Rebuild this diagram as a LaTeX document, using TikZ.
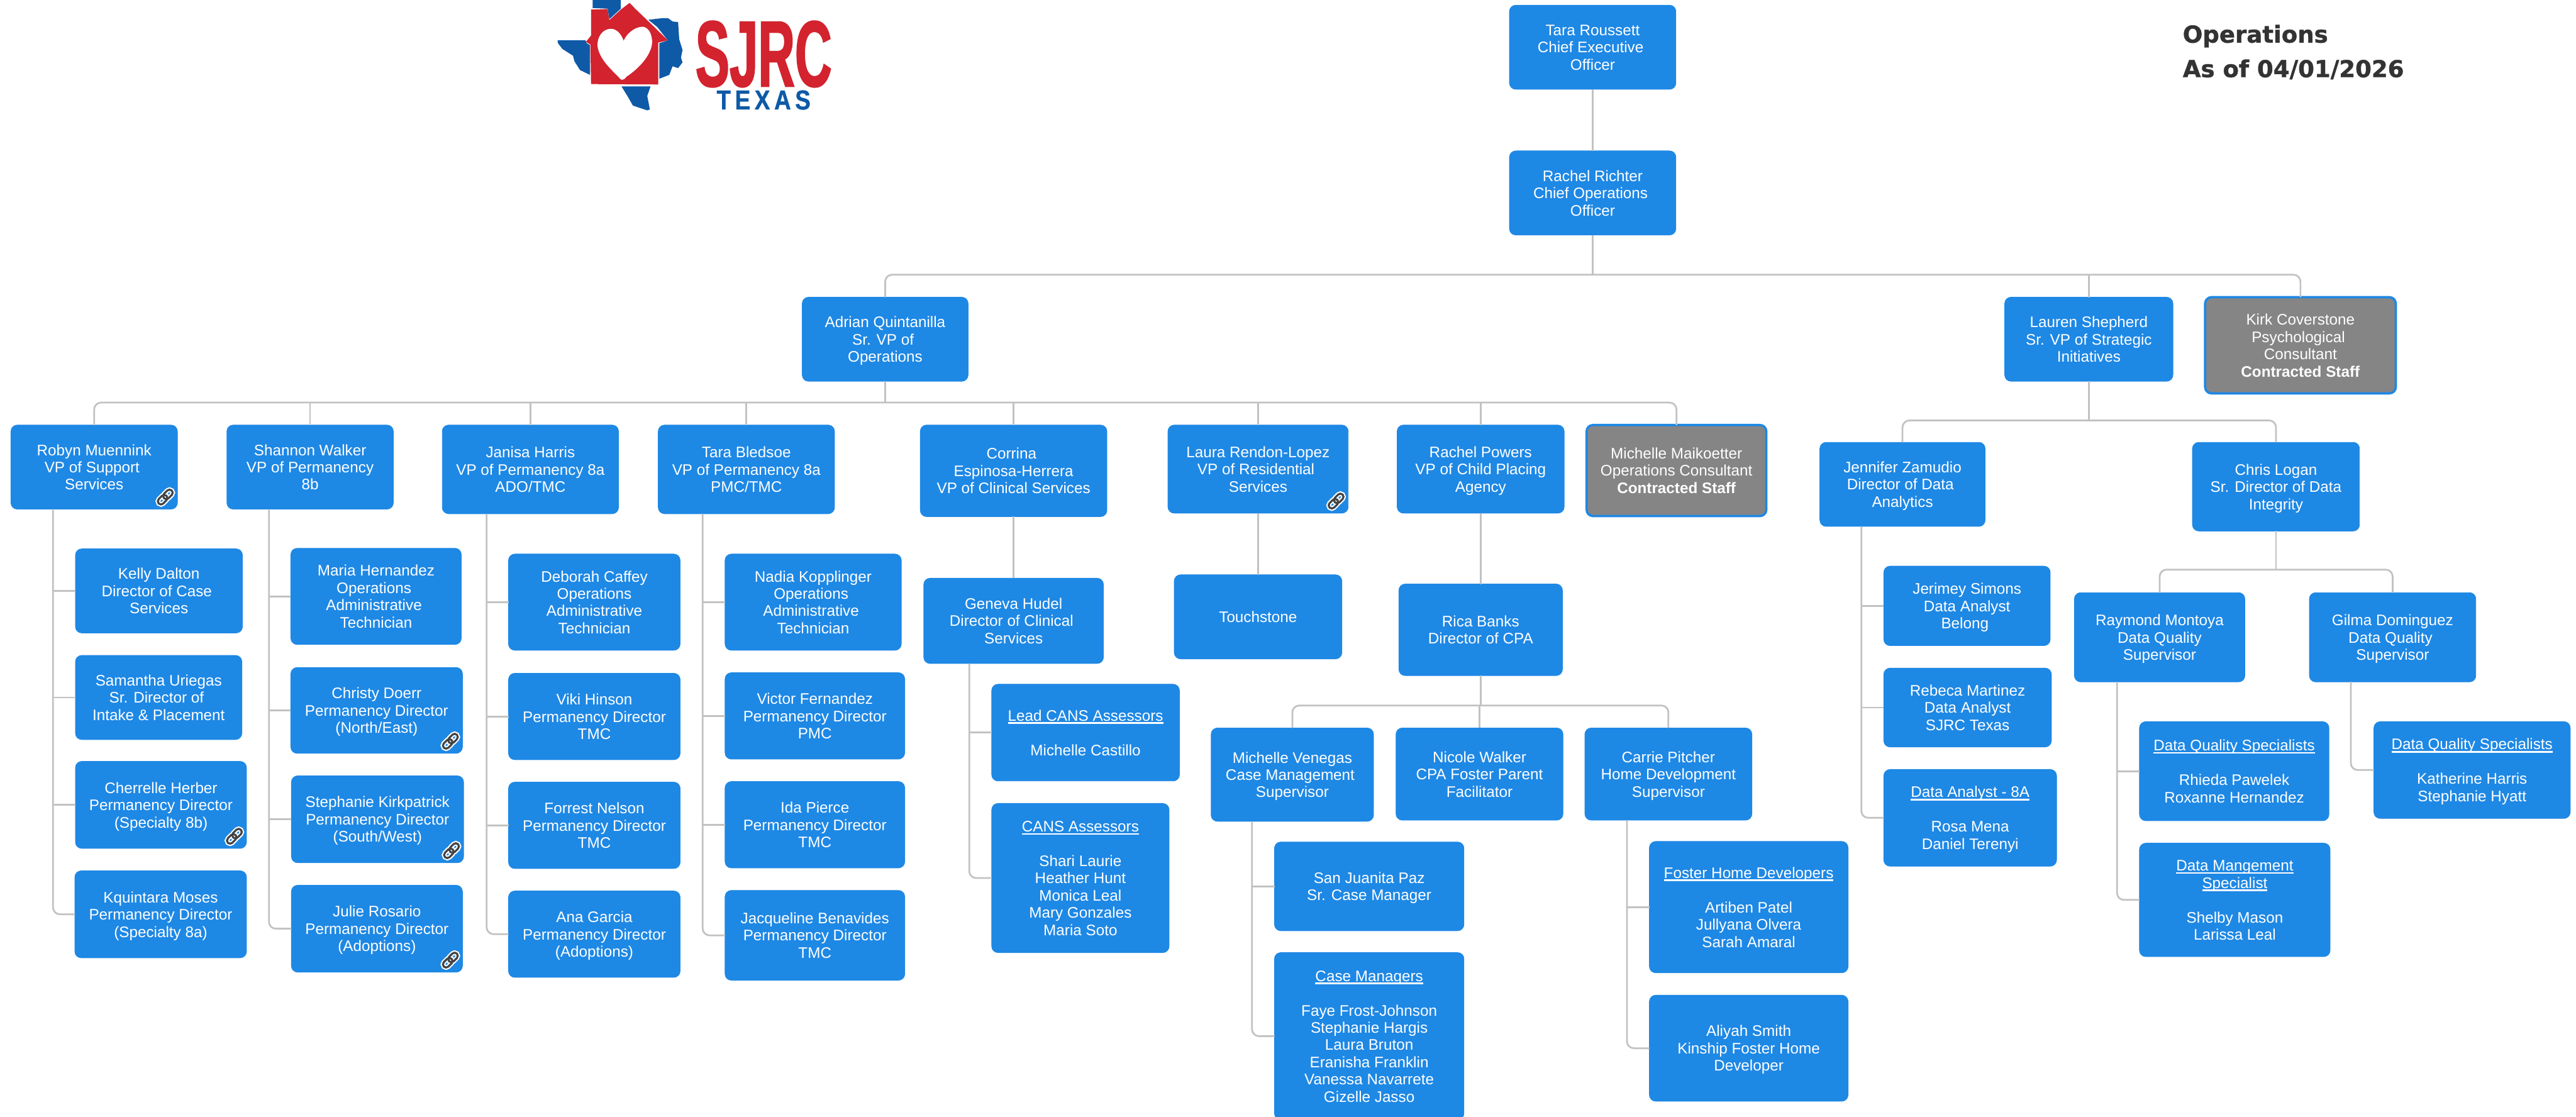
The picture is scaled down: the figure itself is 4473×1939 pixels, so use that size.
\documentclass[tikz,border=0pt]{standalone}
\usepackage{fontspec}
\setmainfont{Liberation Sans}
\newfontfamily\titlefont[FakeBold=1]{DejaVu Sans}
\newfontfamily\logofont[FakeStretch=0.545,FakeBold=1.2]{Liberation Sans}
\newfontfamily\logotwo[FakeStretch=0.85,LetterSpace=15,FakeBold=0.8]{Liberation Sans}
\definecolor{boxblue}{HTML}{1E88E5}
\definecolor{boxgray}{HTML}{858585}
\definecolor{linegray}{HTML}{C2C2C2}
\definecolor{logored}{HTML}{D2232F}
\definecolor{logoblue}{HTML}{0E5AA7}
\definecolor{titlegray}{HTML}{333333}
\definecolor{linkdark}{HTML}{444444}
\tikzset{
  orgbox/.style={rounded corners=11pt,fill=boxblue,draw=boxblue,line width=1pt,inner sep=0pt,outer sep=0pt,
    text=white,align=center,font=\fontsize{26.5}{30}\selectfont},
  grayorg/.style={orgbox,fill=boxgray,line width=4pt},
  conn/.style={draw=linegray,line width=3pt},
  busline/.style={conn,rounded corners=12pt}
}
\newcommand\topstrut{\vrule height 25pt depth 0pt width 0pt\relax}
\newcommand\botstrut{\vrule height 0pt depth 5.7pt width 0pt\relax}
\newcommand\sk{\kern7.4pt\relax}
\newsavebox\ulbox
\newcommand\ul[1]{\sbox\ulbox{#1}\usebox\ulbox\kern-\wd\ulbox\rule[-5pt]{\wd\ulbox}{2.5pt}}
% box: [style]{name}{x0}{y0}{x1}{y1}{text}
\newcommand\ob[7][orgbox]{\node[#1,minimum width={#5-#3},minimum height={#6-#4}] (#2) at ({(#3+#5)/2},{(#4+#6)/2}) {\topstrut#7\botstrut};}
% bus: level y, left node, right node, intermediates, parent
\newcommand\bus[5]{%
  \coordinate (by) at (0,#1);
  \draw[busline] (#2.north) |- (by -| #3.north) -- (#3.north);
  \foreach \c in {#4} {\draw[conn] (\c.north) -- (\c.north |- by);}
  \draw[conn] (#5.south) -- (#5.south |- by);
}
% bus without intermediates
\newcommand\busplain[4]{%
  \coordinate (by) at (0,#1);
  \draw[busline] (#2.north) |- (by -| #3.north) -- (#3.north);
  \draw[conn] (#4.south) -- (#4.south |- by);
}
% trunk: parent, x, middles, last
\newcommand\trunk[4]{%
  \coordinate (tx) at (#2,0);
  \draw[busline] (#1.south -| tx) |- (#4.west);
  \foreach \c in {#3} {\draw[conn] (\c.west) -- (\c.west -| tx);}
}
\newcommand\lnk[1]{%
  \begin{scope}[shift={(#1.south east)},shift={(-21,-21)},rotate=45]
    \foreach \w/\cc in {8pt/white,3.5pt/linkdark}{
      \draw[line width=\w,color=\cc,rounded corners=5.5pt] (-16,-5.5) rectangle (3,5.5);
      \draw[line width=\w,color=\cc,rounded corners=5.5pt] (-3,-5.5) rectangle (16,5.5);
    }
  \end{scope}
}
\begin{document}
\begin{tikzpicture}[x=1pt,y=-1pt]
\useasboundingbox (0,0) rectangle (4473,1939);
\fill[white] (0,0) rectangle (4473,1939);
\clip (0,0) rectangle (4473,1939);

% Logo
\begin{scope}[shift={(900,0)},xscale=.3827,yscale=.3333]
  \fill[logoblue] (337,0) -- (465,0) -- (465,45) -- (413,100) -- (405,45) -- (337,42) -- cycle;
  \fill[logoblue] (590,103) -- (650,95) -- (680,95) -- (700,112) -- (725,115) -- (730,205) -- (745,260) -- (738,300) -- (745,325) -- (725,355) -- (700,345) -- (685,390) -- (640,410) -- (640,225) -- (678,210) -- (630,140) -- cycle;
  \fill[logoblue] (178,210) -- (305,210) -- (310,225) -- (325,235) -- (325,390) -- (280,365) -- (255,320) -- (248,290) -- (200,255) -- (180,225) -- cycle;
  \fill[logoblue] (468,450) -- (600,450) -- (585,500) -- (597,570) -- (585,575) -- (520,550) -- (495,500) -- cycle;
  \fill[logored] (330,50) -- (405,47) -- (413,105) -- (465,50) -- (505,15) -- (530,45) -- (580,100) -- (625,150) -- (678,210) -- (635,222) -- (635,440) -- (330,438) -- (327,232) -- (307,218) -- (330,185) -- cycle;
  \fill[white] (478,213) .. controls (495,165) and (540,135) .. (570,140) .. controls (600,150) and (612,200) .. (605,240) .. controls (590,310) and (530,370) .. (490,400) .. controls (478,420) and (465,420) .. (458,405) .. controls (420,360) and (370,310) .. (360,245) .. controls (355,190) and (385,150) .. (420,150) .. controls (450,150) and (470,185) .. (478,213) -- cycle;
\end{scope}
\node[anchor=base,inner sep=0pt,text=logored,font=\logofont\bfseries\fontsize{163}{163}\selectfont] (sjrc) at (1326,150) {SJRC};
\node[anchor=base,inner sep=0pt,text=logoblue,font=\logotwo\bfseries\fontsize{47.5}{48}\selectfont] (texas) at (1326,190) {TEXAS};

% Title
\node[anchor=base west,inner sep=0pt,text=titlegray,font=\titlefont\bfseries\fontsize{40.5}{41}\selectfont] (title1) at (3790,74) {Operations};
\node[anchor=base west,inner sep=0pt,text=titlegray,font=\titlefont\bfseries\fontsize{40.5}{41}\selectfont] (title2) at (3790,134) {As of 04/01/2026};

% Top
\ob{tara}{2621}{9}{2910}{155}{Tara Roussett\\Chief Executive\sk\\Officer}
\ob{rachelr}{2621}{262}{2910}{408}{Rachel Richter\\Chief Operations\sk\\Officer}
\ob{adrian}{1393}{516}{1681}{662}{Adrian Quintanilla\\Sr. VP of\sk\\Operations}
\ob{lauren}{3481}{516}{3773}{662}{Lauren Shepherd\\Sr. VP of Strategic\\Initiatives}
\ob[grayorg]{kirk}{3829}{516}{4160}{683}{Kirk Coverstone\\Psychological\sk\\Consultant\\\textbf{Contracted Staff}}

% VPs
\ob{robyn}{19}{738}{308}{884}{Robyn Muennink\\VP of Support\sk\\Services}
\ob{shannon}{394}{738}{683}{884}{Shannon Walker\\VP of Permanency\\8b}
\ob{janisa}{768}{738}{1074}{892}{Janisa Harris\\VP of Permanency 8a\\ADO/TMC}
\ob{bledsoe}{1143}{738}{1449}{892}{Tara Bledsoe\\VP of Permanency 8a\\PMC/TMC}
\ob{corrina}{1598}{738}{1922}{897}{Corrina\sk\\Espinosa-Herrera\\VP of Clinical Services}
\ob{laurar}{2028}{738}{2341}{891}{Laura Rendon-Lopez\\VP of Residential\sk\\Services}
\ob{rachelp}{2426}{738}{2716}{891}{Rachel Powers\\VP of Child Placing\\Agency}
\ob[grayorg]{maik}{2755}{738}{3067}{896}{Michelle Maikoetter\\Operations Consultant\\\textbf{Contracted Staff}}

% Robyn reports
\ob{kelly}{131}{953}{421}{1099}{Kelly Dalton\\Director of Case\sk\\Services}
\ob{samantha}{131}{1138}{420}{1284}{Samantha Uriegas\\Sr. Director of\sk\\Intake \& Placement}
\ob{cherrelle}{131}{1322}{428}{1473}{Cherrelle Herber\\Permanency Director\\(Specialty 8b)}
\ob{kquintara}{130}{1512}{428}{1663}{Kquintara Moses\\Permanency Director\\(Specialty 8a)}

% Shannon reports
\ob{mariah}{505}{952}{801}{1119}{Maria Hernandez\\Operations\sk\\Administrative\sk\\Technician}
\ob{christy}{505}{1159}{803}{1308}{Christy Doerr\\Permanency Director\\(North/East)}
\ob{stephk}{506}{1347}{805}{1498}{Stephanie Kirkpatrick\\Permanency Director\\(South/West)}
\ob{julie}{506}{1537}{803}{1688}{Julie Rosario\\Permanency Director\\(Adoptions)}

% Janisa reports
\ob{deborah}{883}{962}{1181}{1129}{Deborah Caffey\\Operations\\Administrative\\Technician}
\ob{viki}{883}{1169}{1181}{1319}{Viki Hinson\\Permanency Director\\TMC}
\ob{forrest}{883}{1358}{1181}{1508}{Forrest Nelson\\Permanency Director\\TMC}
\ob{ana}{883}{1547}{1181}{1697}{Ana Garcia\\Permanency Director\\(Adoptions)}

% Bledsoe reports
\ob{nadia}{1259}{962}{1565}{1129}{Nadia Kopplinger\\Operations\sk\\Administrative\sk\\Technician}
\ob{victor}{1259}{1168}{1571}{1318}{Victor Fernandez\\Permanency Director\\PMC}
\ob{ida}{1259}{1357}{1571}{1507}{Ida Pierce\\Permanency Director\\TMC}
\ob{jacq}{1259}{1546}{1571}{1702}{Jacqueline Benavides\\Permanency Director\\TMC}

% Clinical
\ob{geneva}{1604}{1004}{1916}{1152}{Geneva Hudel\\Director of Clinical\sk\\Services}
\ob{leadcans}{1722}{1188}{2048}{1356}{\ul{Lead CANS Assessors}\\[30pt]Michelle Castillo}
\ob{cans}{1722}{1395}{2030}{1654}{\ul{CANS Assessors}\\[30pt]Shari Laurie\\Heather Hunt\\Monica Leal\\Mary Gonzales\\Maria Soto}

% Residential
\ob{touch}{2039}{998}{2330}{1144}{Touchstone}

% CPA
\ob{rica}{2429}{1014}{2713}{1173}{Rica Banks\\Director of CPA}
\ob{venegas}{2103}{1264}{2385}{1426}{Michelle Venegas\\Case Management\sk\\Supervisor}
\ob{nicole}{2424}{1264}{2714}{1424}{Nicole Walker\\CPA Foster Parent\\Facilitator}
\ob{carrie}{2752}{1264}{3042}{1424}{Carrie Pitcher\\Home Development\\Supervisor}
\ob{sanj}{2213}{1462}{2542}{1616}{San Juanita Paz\\Sr. Case Manager}
\ob{casem}{2213}{1654}{2542}{1944}{\ul{Case Managers}\\[30pt]Faye Frost-Johnson\\Stephanie Hargis\\Laura Bruton\\Eranisha Franklin\\Vanessa Navarrete\\Gizelle Jasso}
\ob{foster}{2864}{1461}{3209}{1689}{\ul{Foster Home Developers}\\[30pt]Artiben Patel\\Jullyana Olvera\\Sarah Amaral}
\ob{aliyah}{2864}{1728}{3209}{1912}{Aliyah Smith\\Kinship Foster Home\\Developer}

% Strategic
\ob{jennifer}{3160}{768}{3447}{914}{Jennifer Zamudio\\Director of Data\sk\\Analytics}
\ob{chris}{3807}{768}{4097}{922}{Chris Logan\\Sr. Director of Data\\Integrity}
\ob{jerimey}{3271}{983}{3560}{1121}{Jerimey Simons\\Data Analyst\\Belong\sk}
\ob{rebeca}{3271}{1160}{3562}{1297}{Rebeca Martinez\\Data Analyst\\SJRC Texas}
\ob{da8a}{3271}{1336}{3571}{1504}{\ul{Data Analyst - 8A}\\[30pt]Rosa Mena\\Daniel Terenyi}
\ob{raymond}{3602}{1029}{3898}{1184}{Raymond Montoya\\Data Quality\\Supervisor}
\ob{gilma}{4010}{1029}{4299}{1184}{Gilma Dominguez\\Data Quality\sk\\Supervisor}
\ob{dqs1}{3715}{1253}{4044}{1425}{\ul{Data Quality Specialists}\\[30pt]Rhieda Pawelek\\Roxanne Hernandez}
\ob{dms}{3715}{1464}{4046}{1661}{\ul{Data Mangement}\\\ul{Specialist}\\[30pt]Shelby Mason\\Larissa Leal}
\ob{dqs2}{4122}{1253}{4463}{1421}{\ul{Data Quality Specialists}\\[30pt]Katherine Harris\\Stephanie Hyatt}

% Connectors
\draw[conn] (tara.south) -- (rachelr.north);
\bus{477}{adrian}{kirk}{lauren}{rachelr}
\bus{699}{robyn}{maik}{shannon,janisa,bledsoe,corrina,laurar,rachelp}{adrian}
\busplain{730}{jennifer}{chris}{lauren}
\busplain{989}{raymond}{gilma}{chris}
\bus{1225}{venegas}{carrie}{nicole}{rica}
\draw[conn] (corrina.south) -- (geneva.north);
\draw[conn] (laurar.south) -- (touch.north);
\draw[conn] (rachelp.south) -- (rachelp.south |- rica.north);
\trunk{robyn}{92}{kelly,samantha,cherrelle}{kquintara}
\trunk{shannon}{467}{mariah,christy,stephk}{julie}
\trunk{janisa}{845}{deborah,viki,forrest}{ana}
\trunk{bledsoe}{1220}{nadia,victor,ida}{jacq}
\trunk{geneva}{1683}{leadcans}{cans}
\trunk{venegas}{2174}{sanj}{casem}
\trunk{carrie}{2825}{foster}{aliyah}
\trunk{jennifer}{3232}{jerimey,rebeca}{da8a}
\trunk{raymond}{3676}{dqs1}{dms}
\coordinate (gx) at (4082,0);
\draw[busline] (gilma.south -| gx) |- (dqs2.west);

% Link icons
\lnk{robyn}\lnk{cherrelle}\lnk{christy}\lnk{stephk}\lnk{julie}\lnk{laurar}
\end{tikzpicture}
\end{document}
